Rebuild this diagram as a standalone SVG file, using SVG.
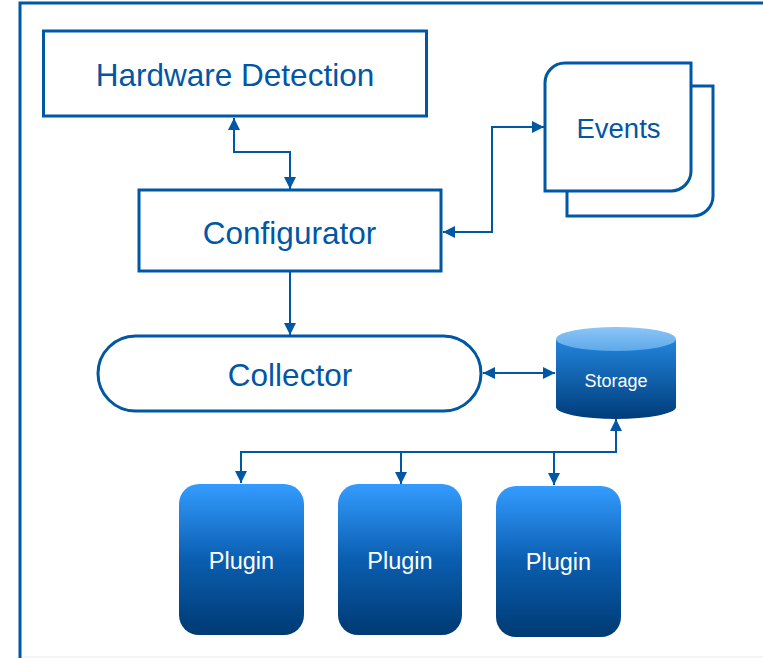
<svg xmlns="http://www.w3.org/2000/svg" width="763" height="658" viewBox="0 0 763 658">
<style>
.box{fill:#fff;stroke:#0057a4;stroke-width:3}
.lbl{font-family:"Liberation Sans",Arial,sans-serif;fill:#0057a4;text-anchor:middle}
.wl{font-family:"Liberation Sans",Arial,sans-serif;fill:#fff;text-anchor:middle}
.con{fill:none;stroke:#0057a4;stroke-width:2}
</style>
<defs>
<marker id="ah" viewBox="0 0 10 10" refX="10" refY="5" markerWidth="12" markerHeight="12" markerUnits="userSpaceOnUse" orient="auto-start-reverse">
<path d="M0,0 L10,5 L0,10 Z" fill="#0057a4"/>
</marker>
<linearGradient id="pg" x1="0" y1="0" x2="0" y2="1">
<stop offset="0" stop-color="#349cff"/>
<stop offset="0.5" stop-color="#0a5eb0"/>
<stop offset="1" stop-color="#003a73"/>
</linearGradient>
<linearGradient id="sg" x1="0" y1="0" x2="0" y2="1">
<stop offset="0" stop-color="#2284dc"/>
<stop offset="1" stop-color="#003c7a"/>
</linearGradient>
<linearGradient id="st" x1="0" y1="0" x2="0" y2="1">
<stop offset="0" stop-color="#8cc6f6"/>
<stop offset="1" stop-color="#5ea8ea"/>
</linearGradient>
</defs>
<rect x="20" y="3" width="800" height="720" fill="none" stroke="#0057a4" stroke-width="3"/>
<line x1="22" y1="657" x2="763" y2="657" stroke="#ececec" stroke-width="1"/>
<g id="connectors">
<path class="con" d="M234,118 V152 H290 V189" marker-start="url(#ah)" marker-end="url(#ah)"/>
<path class="con" d="M443,232 H492 V127 H544" marker-start="url(#ah)" marker-end="url(#ah)"/>
<path class="con" d="M290,272 V335" marker-end="url(#ah)"/>
<path class="con" d="M483,373 H555" marker-start="url(#ah)" marker-end="url(#ah)"/>
<path class="con" d="M241,483 V452 H616 V419" marker-start="url(#ah)" marker-end="url(#ah)"/>
<path class="con" d="M401,452 V484" marker-end="url(#ah)"/>
<path class="con" d="M554,452 V485" marker-end="url(#ah)"/>
</g>
<g id="hardware">
<rect class="box" x="43.5" y="31" width="383" height="85"/>
<text class="lbl" x="235" y="86" font-size="31.5">Hardware Detection</text>
</g>
<g id="configurator">
<rect class="box" x="139" y="190" width="302" height="81"/>
<text class="lbl" x="289.5" y="244" font-size="31.5">Configurator</text>
</g>
<g id="events">
<path class="box" d="M567,86 H713 V196 A20,20 0 0 1 693,216 H567 Z"/>
<path class="box" d="M545,83 A20,20 0 0 1 565,63 H691 V171 A20,20 0 0 1 671,191 H545 Z"/>
<text class="lbl" x="618.5" y="138" font-size="27.5">Events</text>
</g>
<g id="collector">
<rect class="box" x="98" y="336" width="383" height="75" rx="37.5"/>
<text class="lbl" x="290" y="386" font-size="31.5">Collector</text>
</g>
<g id="storage">
<path d="M556,340 V407 A60,12 0 0 0 676,407 V340 Z" fill="url(#sg)"/>
<ellipse cx="616" cy="339" rx="60" ry="12" fill="url(#st)"/>
<text class="wl" x="616" y="387" font-size="18">Storage</text>
</g>
<g id="plugin1">
<rect x="179" y="484" width="125" height="151" rx="20" fill="url(#pg)"/>
<text class="wl" x="241.5" y="569" font-size="23.5">Plugin</text>
</g>
<g id="plugin2">
<rect x="338" y="484" width="124" height="151" rx="20" fill="url(#pg)"/>
<text class="wl" x="400" y="569" font-size="23.5">Plugin</text>
</g>
<g id="plugin3">
<rect x="496" y="486" width="125" height="151" rx="20" fill="url(#pg)"/>
<text class="wl" x="558.5" y="570" font-size="23.5">Plugin</text>
</g>
</svg>
